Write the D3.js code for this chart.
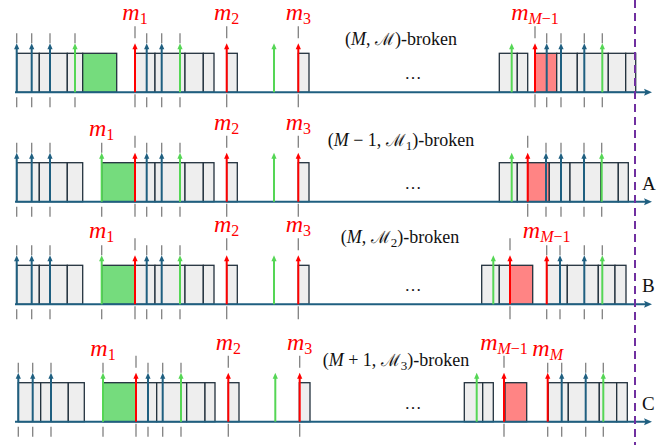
<!DOCTYPE html>
<html>
<head>
<meta charset="utf-8">
<script src="https://cdn.jsdelivr.net/npm/d3@7"></script>
<style>
  body { margin: 0; background: #fff; }
</style>
</head>
<body>
<div id="container"></div>
<script>
/**
 * DATA
 * */
// row names (letters on the right), blank for the top row
const rowTags = ["", "A", "B", "C"];
// the "(count, set)-broken" caption of each row
const brokenCount = ["M", "M − 1", "M", "M + 1"];
const brokenSub = ["", "1", "2", "3"];

// time position of the horizon (purple dashed line)
const horizon = 635;

// boxes: [start, end, kind]  g = grey, G = green, R = red
const boxesTop = [
  [16.7, 39.3, "g"], [39.3, 67.3, "g"], [67.3, 82.7, "g"], [82.7, 116.7, "G"],
  [135, 155, "g"], [155, 185, "g"], [185, 203.3, "g"], [203.3, 214, "g"],
  [226.7, 237.3, "g"], [298.3, 309, "g"],
  [499.3, 517.3, "g"], [517.3, 527.7, "g"], [535, 556.7, "R"], [556.7, 577.3, "g"],
  [577.3, 608.3, "g"], [608.3, 625.7, "g"], [625.7, 635.7, "g"]
];
const boxesA = [
  [16.7, 39.3, "g"], [39.3, 67.3, "g"], [67.3, 82.7, "g"], [101.7, 135, "G"],
  [135, 155, "g"], [155, 185, "g"], [185, 203.3, "g"], [203.3, 214, "g"],
  [226.7, 237.3, "g"], [298.3, 309, "g"],
  [499.3, 517.3, "g"], [517.3, 527.7, "g"], [527.7, 549.3, "R"], [549.3, 570, "g"],
  [570, 601, "g"], [601, 618.3, "g"], [618.3, 628.3, "g"]
];
const boxesB = [
  [16.7, 39.3, "g"], [39.3, 67.3, "g"], [67.3, 82.7, "g"], [101.7, 135, "G"],
  [135, 155, "g"], [155, 185, "g"], [185, 203.3, "g"], [203.3, 214, "g"],
  [226.7, 237.3, "g"], [298.3, 309, "g"],
  [481.7, 499.3, "g"], [499.3, 510, "g"], [510, 532.7, "R"],
  [546.7, 567.3, "g"], [567.3, 598.3, "g"], [598.3, 615, "g"], [615, 626, "g"]
];
const boxesC = [
  [18.3, 40.7, "g"], [40.7, 68.3, "g"], [68.3, 84.3, "g"], [103.3, 136, "G"],
  [136, 156.7, "g"], [156.7, 186.7, "g"], [186.7, 205, "g"], [205, 215, "g"],
  [228.3, 239, "g"], [299.3, 310, "g"],
  [464.3, 482.7, "g"], [482.7, 493.3, "g"], [505, 526.7, "R"],
  [548.3, 568.3, "g"], [568.3, 599.3, "g"], [599.3, 616.7, "g"], [616.7, 627.3, "g"]
];

// events: [time, colour, tick, label]  colour b/g/r, tick s = short, l = long
const eventsTop = [
  [16.7, "b", "s"], [31.7, "b", "s"], [50, "b", "s"], [75, "g", "s"],
  [135, "r", "l", "1"], [146.7, "b", "s"], [161.7, "b", "s"], [180, "g", "s"],
  [226.7, "r", "l", "2"], [274, "g", ""], [298.3, "r", "l", "3"],
  [511.7, "g", ""], [535, "r", "l", "M−1"], [546.7, "b", "s"], [561, "b", "s"],
  [584.3, "b", "s"], [602.3, "g", "s"]
];
const eventsA = [
  [16.7, "b", "s"], [31.7, "b", "s"], [50, "b", "s"], [101.7, "g", "s", "1"],
  [135, "r", "l"], [146.7, "b", "s"], [161.7, "b", "s"], [180, "g", "s"],
  [226.7, "r", "l", "2"], [274, "g", ""], [298.3, "r", "l", "3"],
  [511.7, "g", ""], [527.7, "r", "l"], [546, "b", "s"], [561, "b", "s"],
  [584, "b", "s"], [601.7, "g", "s"]
];
const eventsB = [
  [16.7, "b", "s"], [31.7, "b", "s"], [50, "b", "s"], [101.7, "g", "s", "1"],
  [135, "r", "l"], [146.7, "b", "s"], [161.7, "b", "s"], [180, "g", "s"],
  [226.7, "r", "l", "2"], [274, "g", ""], [298.3, "r", "l", "3"],
  [493.3, "g", ""], [510, "r", "l"], [546.7, "r", "s", "M−1"], [560, "b", "s"],
  [584.3, "b", "s"], [602.3, "g", "s"]
];
const eventsC = [
  [18.3, "b", "s"], [32.7, "b", "s"], [51, "b", "s"], [103, "g", "s", "1"],
  [136, "r", "l"], [148, "b", "s"], [162.7, "b", "s"], [181, "g", "s"],
  [228.3, "r", "l", "2"], [275.3, "g", ""], [299.7, "r", "l", "3"],
  [476.7, "g", ""], [504, "r", "l", "M−1"], [547.7, "r", "s", "M"], [561.7, "b", "s"],
  [585.7, "b", "s"], [603.3, "g", "s"]
];

const rowBoxes = [boxesTop, boxesA, boxesB, boxesC];
const rowEvents = [eventsTop, eventsA, eventsB, eventsC];

/**
 * LAYOUT
 * */
const width = 672, height = 445;
const axisY = [92.3, 201.7, 304.3, 421.7];
const captionY = [45, 146, 243, 366];
const captionX = [401, 401, 400, 396];

const x = d3.scaleLinear().domain([0, 672]).range([0, 672]);

const axisCol = "#1f5f80";
const colour = { b: "#1f5f80", g: "#55d655", r: "#ff0000" };
const boxFill = { g: "#eeeeee", G: "#75dc7d", R: "#ff8484" };
const serif = "'Liberation Serif', 'DejaVu Serif', serif";

const svg = d3.select("#container")
  .append("svg")
  .attr("width", width)
  .attr("height", height)
  .style("display", "block");

rowBoxes.forEach((boxes, i) => {
  const y0 = axisY[i];
  const g = svg.append("g");
  const events = rowEvents[i];

  // grey dashes marking the event times
  const ticks = events.filter(d => d[2]);
  g.selectAll("line.top")
    .data(ticks)
    .join("line")
    .attr("x1", d => x(d[0])).attr("x2", d => x(d[0]))
    .attr("y1", d => d[2] === "l" ? y0 - 66 : y0 - 59)
    .attr("y2", d => d[2] === "l" ? y0 - 54 : y0 - 49)
    .attr("stroke", "#808080")
    .attr("stroke-width", 1.3);
  g.selectAll("line.bot")
    .data(ticks)
    .join("line")
    .attr("x1", d => x(d[0])).attr("x2", d => x(d[0]))
    .attr("y1", d => d[2] === "l" ? y0 + 2 : y0 + 5)
    .attr("y2", y0 + 15)
    .attr("stroke", "#808080")
    .attr("stroke-width", 1.3);

  // boxes
  g.selectAll("rect")
    .data(boxes)
    .join("rect")
    .attr("x", d => x(d[0]))
    .attr("y", y0 - 39)
    .attr("width", d => x(d[1]) - x(d[0]))
    .attr("height", 39)
    .attr("fill", d => boxFill[d[2]])
    .attr("stroke", "#22313d")
    .attr("stroke-width", 1.3);

  // time axis
  g.append("line")
    .attr("x1", 15).attr("x2", 646)
    .attr("y1", y0).attr("y2", y0)
    .attr("stroke", axisCol)
    .attr("stroke-width", 2);
  g.append("path")
    .attr("d", `M652,${y0} L644,${y0 - 3.5} L645.5,${y0} L644,${y0 + 3.5} Z`)
    .attr("fill", axisCol);

  // event arrows
  const ev = g.selectAll("g.ev")
    .data(events)
    .join("g");
  ev.append("line")
    .attr("x1", d => x(d[0])).attr("x2", d => x(d[0]))
    .attr("y1", y0).attr("y2", y0 - 44)
    .attr("stroke", d => colour[d[1]])
    .attr("stroke-width", 2);
  ev.append("path")
    .attr("d", d => {
      const cx = x(d[0]);
      return `M${cx},${y0 - 49} L${cx - 2.6},${y0 - 43} L${cx + 2.6},${y0 - 43} Z`;
    })
    .attr("fill", d => colour[d[1]]);

  // m labels
  const lab = g.selectAll("text.m")
    .data(events.filter(d => d[3]))
    .join("text")
    .attr("x", d => x(d[0]))
    .attr("y", d => d[2] === "l" ? y0 - 72 : y0 - 66)
    .attr("text-anchor", "middle")
    .attr("fill", "#ff0000")
    .style("font-family", serif);
  lab.append("tspan")
    .style("font-style", "italic")
    .style("font-size", "24px")
    .text("m");
  lab.each(function(d) {
    const t = d3.select(this);
    const sub = d[3];
    if (sub[0] === "M") {
      t.append("tspan").attr("dy", 4).style("font-size", "16px")
        .style("font-style", "italic").text("M");
      if (sub.length > 1) {
        t.append("tspan").style("font-size", "16px").text(sub.slice(1));
      }
    } else {
      t.append("tspan").attr("dy", 4).style("font-size", "16px").text(sub);
    }
  });

  // caption
  const cap = g.append("text")
    .attr("x", captionX[i])
    .attr("y", captionY[i])
    .attr("text-anchor", "middle")
    .style("font-family", serif)
    .style("font-size", "18px")
    .attr("fill", "#111");
  cap.append("tspan").text("(");
  cap.append("tspan").style("font-style", "italic").text("M");
  if (brokenCount[i].length > 1) cap.append("tspan").text(brokenCount[i].slice(1));
  cap.append("tspan").text(", ");
  cap.append("tspan").style("font-family", "'DejaVu Serif', serif").style("font-size", "17px").text("ℳ");
  if (brokenSub[i]) cap.append("tspan").attr("dy", 4).style("font-size", "13px").text(brokenSub[i]);
  cap.append("tspan").attr("dy", brokenSub[i] ? -4 : 0).text(")-broken");

  // dots
  g.append("text")
    .attr("x", 413).attr("y", y0 - 13)
    .attr("text-anchor", "middle")
    .style("font-family", serif)
    .style("font-size", "17px")
    .attr("fill", "#111")
    .text("…");

  // row tag
  if (rowTags[i]) {
    g.append("text")
      .attr("x", 642).attr("y", y0 - 12)
      .style("font-family", serif)
      .style("font-size", "19px")
      .attr("fill", "#111")
      .text(rowTags[i]);
  }
});

// horizon
svg.append("line")
  .attr("x1", x(horizon)).attr("x2", x(horizon))
  .attr("y1", 0).attr("y2", height)
  .attr("stroke", "#7030a0")
  .attr("stroke-width", 2)
  .attr("stroke-dasharray", "8,5");
</script>
</body>
</html>
